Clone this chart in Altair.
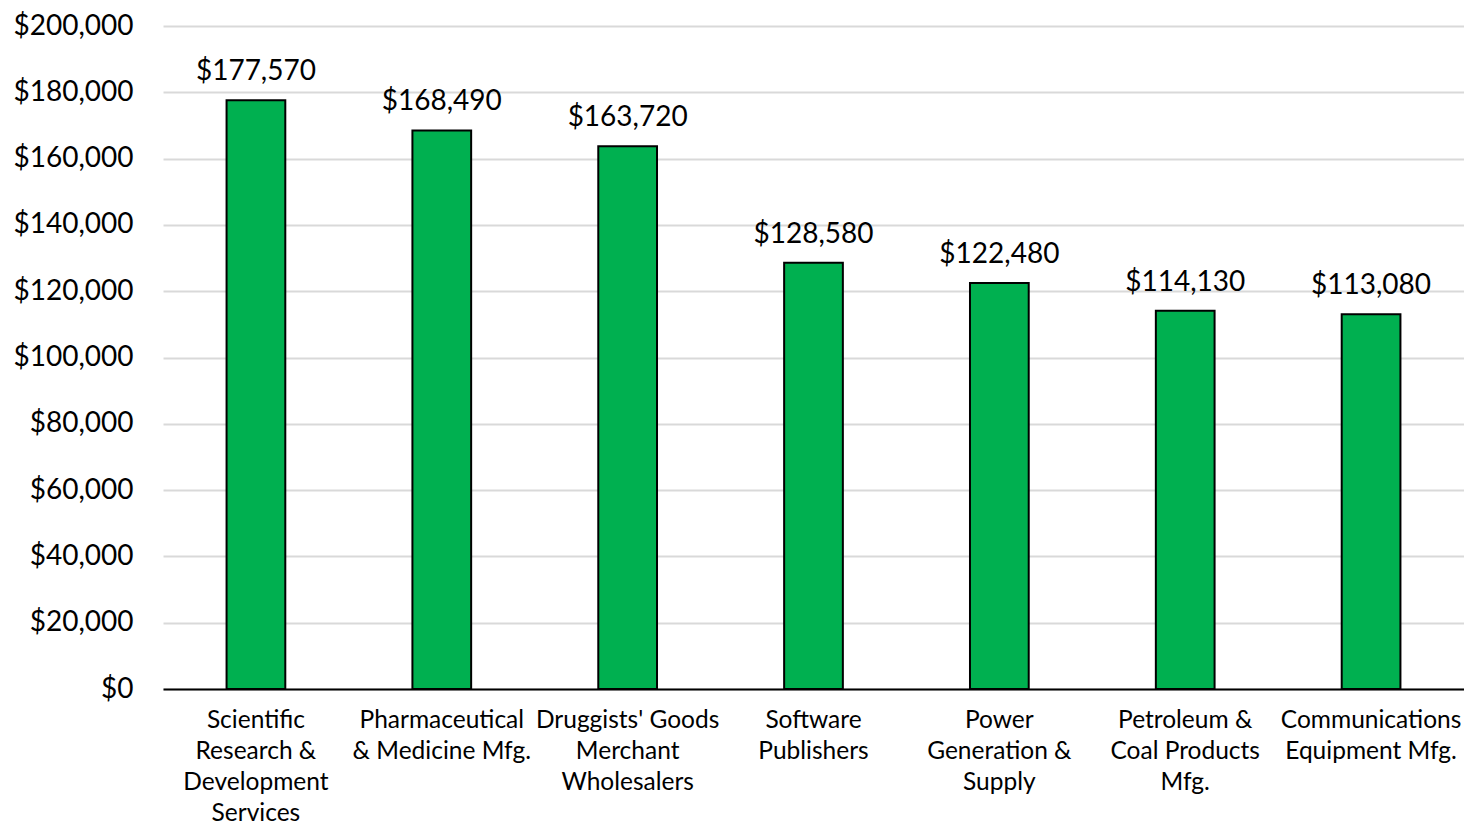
import altair as alt
import pandas as pd

categories = [
    "Scientific\nResearch &\nDevelopment\nServices",
    "Pharmaceutical\n& Medicine Mfg.",
    "Druggists' Goods\nMerchant\nWholesalers",
    "Software\nPublishers",
    "Power\nGeneration &\nSupply",
    "Petroleum &\nCoal Products\nMfg.",
    "Communications\nEquipment Mfg.",
]
wages = [177570, 168490, 163720, 128580, 122480, 114130, 113080]
y_ticks = [0, 20000, 40000, 60000, 80000, 100000, 120000, 140000, 160000, 180000, 200000]

df = pd.DataFrame({"category": categories, "wage": wages})

FONT = "Lato"

x = alt.X(
    "category:N",
    sort=categories,
    title=None,
    scale=alt.Scale(paddingInner=0.684, paddingOuter=0.342),
    axis=alt.Axis(
        labelAngle=0,
        labelExpr="split(datum.label, '\\n')",
        labelFont=FONT,
        labelFontSize=24.5,
        labelColor="#000000",
        labelLineHeight=31,
        labelPadding=19,
        labelBaseline="top",
        ticks=False,
        domain=True,
        domainColor="#000000",
        domainWidth=2,
        grid=False,
        labelLimit=400,
    ),
)
y = alt.Y(
    "wage:Q",
    title=None,
    scale=alt.Scale(domain=[0, 200000], nice=False),
    axis=alt.Axis(
        values=y_ticks,
        format="$,.0f",
        labelFont=FONT,
        labelFontSize=28,
        labelColor="#000000",
        labelPadding=30,
        ticks=False,
        domain=False,
        grid=True,
        gridColor="#d9d9d9",
        gridWidth=2,
    ),
)

base = alt.Chart(df)
bars = base.mark_bar(color="#00B050", stroke="#000000", strokeWidth=2).encode(x=x, y=y)
labels = base.mark_text(
    font=FONT, fontSize=28, color="#000000", baseline="alphabetic", dy=-20
).encode(
    x=alt.X("category:N", sort=categories),
    y=alt.Y("wage:Q"),
    text=alt.Text("wage:Q", format="$,.0f"),
)

chart = (
    alt.layer(bars, labels)
    .properties(
        width=1301,
        height=663,
        autosize=alt.AutoSizeParams(type="none"),
        padding={"left": 155, "top": 18, "right": 0, "bottom": 136},
    )
    .configure_view(stroke=None)
)

chart.save("out.html", embed_options={"renderer": "svg", "actions": False})
